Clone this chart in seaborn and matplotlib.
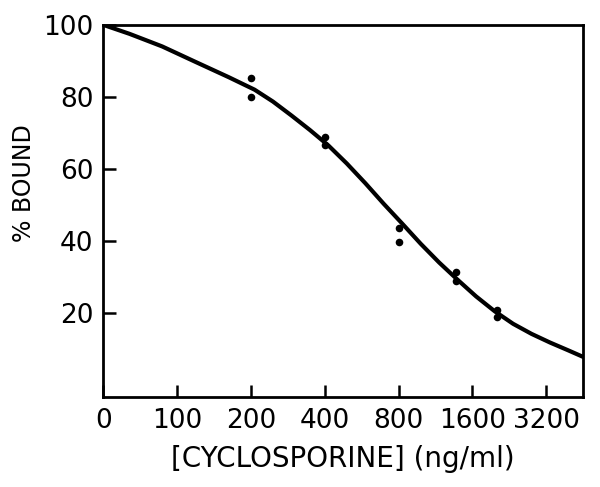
import numpy as np
import pandas as pd
import matplotlib
matplotlib.use("Agg")
import matplotlib.pyplot as plt
import seaborn as sns

# Fitted standard curve (concentration ng/ml, % bound); the "0" point sits at the axis origin (50 on the log2 scale)
curve_conc = [50, 64, 87, 119, 162, 207, 246, 293, 348, 414, 492, 586, 696, 828,
              985, 1171, 1393, 1656, 1970, 2343, 2786, 3313, 3940, 4525]
curve_bound = [100, 97.5, 94.0, 89.7, 85.5, 82.0, 78.7, 74.8, 70.8, 66.5, 61.5, 56.0,
               50.3, 44.8, 39.2, 34.0, 29.2, 24.6, 20.5, 17.0, 14.2, 11.8, 9.6, 7.8]

# Measured points
point_conc = [200, 200, 400, 400, 800, 800, 1370, 1370, 2020, 2020]
point_bound = [85.3, 80.0, 68.9, 66.7, 43.6, 39.7, 31.4, 29.0, 20.8, 18.9]

# Axis ticks
x_tick_pos = [50, 100, 200, 400, 800, 1600, 3200]
x_tick_labels = ["0", "100", "200", "400", "800", "1600", "3200"]
y_ticks = [20, 40, 60, 80, 100]

curve_df = pd.DataFrame({"conc": curve_conc, "bound": curve_bound})
point_df = pd.DataFrame({"conc": point_conc, "bound": point_bound})

sns.set_style("ticks")
plt.rcParams["font.family"] = ["DejaVu Sans"]

fig = plt.figure(figsize=(6.0, 4.87), dpi=100)
ax = fig.add_axes([0.172, 0.185, 0.8, 0.764])

sns.lineplot(data=curve_df, x="conc", y="bound", ax=ax, color="black",
             linewidth=3.0, estimator=None, sort=True)
sns.scatterplot(data=point_df, x="conc", y="bound", ax=ax, color="black",
                s=30, edgecolor="black", linewidth=0, zorder=5)

ax.set_xscale("log", base=2)
ax.set_xlim(50, 4525)
ax.set_ylim(-3.3, 100)
ax.set_xticks(x_tick_pos)
ax.set_xticklabels(x_tick_labels)
ax.minorticks_off()
ax.set_yticks(y_ticks)
ax.set_yticklabels([str(v) for v in y_ticks])

ax.tick_params(axis="both", direction="in", length=9, width=1.8,
               labelsize=19, pad=7, colors="black")
ax.tick_params(axis="x", pad=8)

for side in ["left", "bottom", "top", "right"]:
    ax.spines[side].set_visible(True)
    ax.spines[side].set_color("black")
    ax.spines[side].set_linewidth(2.0)

ax.set_xlabel("[CYCLOSPORINE] (ng/ml)", fontsize=20, labelpad=8, color="black")
ax.set_ylabel("% BOUND", fontsize=17, color="black")
ax.yaxis.set_label_coords(-0.14, 0.575)

fig.savefig("out.png", dpi=100)
